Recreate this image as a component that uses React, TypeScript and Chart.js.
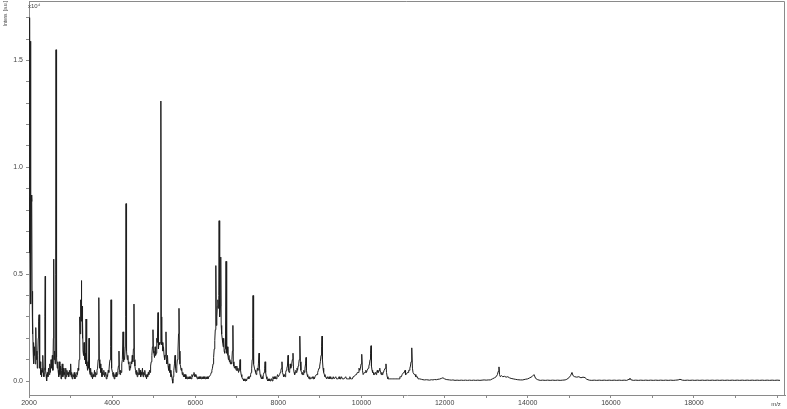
import React, { useEffect, useRef } from "react";
import { Chart, registerables } from "chart.js";

Chart.register(...registerables);

// m/z positions of the spectrum samples
const mzValues: number[] = [
  2000, 2010, 2020, 2026, 2032, 2040, 2048, 2058, 2066, 2074, 2082, 2090, 2098, 2106, 2114, 2124, 2134, 2146, 2158, 2168,
  2178, 2190, 2200, 2212, 2222, 2232, 2242, 2252, 2262, 2272, 2282, 2292, 2302, 2314, 2326, 2336, 2346, 2358, 2372, 2382,
  2390, 2398, 2410, 2424, 2440, 2456, 2470, 2484, 2500, 2514, 2530, 2548, 2562, 2574, 2586, 2595, 2604, 2616, 2630, 2642,
  2650, 2658, 2668, 2680, 2692, 2700, 2716, 2730, 2744, 2758, 2770, 2784, 2800, 2814, 2828, 2842, 2856, 2870, 2884, 2898,
  2912, 2926, 2940, 2956, 2972, 2988, 3002, 3014, 3026, 3040, 3056, 3072, 3088, 3104, 3120, 3136, 3152, 3166, 3180, 3194,
  3206, 3216, 3226, 3236, 3244, 3252, 3260, 3268, 3276, 3284, 3292, 3300, 3312, 3324, 3336, 3350, 3362, 3372, 3382, 3394,
  3408, 3420, 3432, 3444, 3454, 3468, 3482, 3496, 3512, 3528, 3544, 3560, 3576, 3590, 3604, 3620, 3636, 3650, 3664, 3676,
  3684, 3692, 3704, 3716, 3728, 3742, 3756, 3770, 3786, 3800, 3816, 3832, 3846, 3860, 3876, 3890, 3906, 3920, 3936, 3950,
  3964, 3973, 3982, 3994, 4008, 4022, 4036, 4050, 4066, 4080, 4096, 4110, 4124, 4138, 4152, 4165, 4176, 4190, 4204, 4218,
  4232, 4246, 4262, 4272, 4284, 4300, 4316, 4326, 4334, 4342, 4352, 4364, 4378, 4392, 4404, 4416, 4430, 4444, 4456, 4470,
  4484, 4498, 4512, 4526, 4536, 4548, 4562, 4576, 4590, 4604, 4618, 4632, 4646, 4660, 4674, 4688, 4702, 4716, 4730, 4744,
  4758, 4772, 4786, 4800, 4814, 4828, 4842, 4856, 4870, 4884, 4898, 4912, 4926, 4940, 4956, 4970, 4983, 4994, 5006, 5020,
  5034, 5046, 5060, 5074, 5088, 5104, 5114, 5128, 5144, 5160, 5170, 5176, 5184, 5194, 5208, 5222, 5236, 5250, 5264, 5280,
  5296, 5306, 5318, 5332, 5346, 5360, 5374, 5388, 5402, 5416, 5430, 5444, 5458, 5470, 5484, 5500, 5513, 5526, 5540, 5556,
  5570, 5584, 5598, 5609, 5620, 5632, 5646, 5660, 5674, 5688, 5702, 5716, 5730, 5746, 5760, 5776, 5792, 5808, 5824, 5840,
  5856, 5872, 5888, 5904, 5920, 5936, 5952, 5970, 5986, 6002, 6018, 6034, 6050, 6066, 6082, 6098, 6114, 6130, 6146, 6162,
  6178, 6194, 6210, 6226, 6242, 6258, 6274, 6290, 6306, 6322, 6338, 6354, 6370, 6386, 6400, 6414, 6428, 6442, 6456, 6470,
  6482, 6492, 6499, 6508, 6520, 6532, 6544, 6556, 6566, 6574, 6582, 6594, 6606, 6614, 6624, 6636, 6648, 6660, 6672, 6684,
  6696, 6708, 6718, 6728, 6740, 6750, 6762, 6774, 6786, 6798, 6810, 6822, 6834, 6846, 6858, 6870, 6882, 6894, 6906, 6916,
  6930, 6944, 6958, 6972, 6986, 7000, 7014, 7028, 7042, 7056, 7068, 7078, 7090, 7104, 7120, 7136, 7152, 7168, 7184, 7200,
  7216, 7232, 7248, 7262, 7276, 7290, 7304, 7318, 7332, 7346, 7358, 7370, 7382, 7390, 7398, 7410, 7424, 7438, 7452, 7466,
  7480, 7494, 7508, 7520, 7534, 7546, 7560, 7576, 7592, 7608, 7624, 7640, 7656, 7670, 7680, 7694, 7710, 7726, 7742, 7758,
  7774, 7790, 7806, 7822, 7838, 7854, 7870, 7886, 7902, 7918, 7934, 7950, 7966, 7982, 7998, 8014, 8030, 8046, 8060, 8074,
  8087, 8100, 8114, 8128, 8144, 8160, 8176, 8190, 8204, 8218, 8232, 8244, 8258, 8272, 8286, 8298, 8310, 8322, 8336, 8352,
  8364, 8378, 8392, 8406, 8420, 8434, 8448, 8462, 8476, 8490, 8502, 8512, 8520, 8530, 8542, 8556, 8570, 8584, 8598, 8612,
  8626, 8640, 8654, 8665, 8676, 8690, 8706, 8722, 8738, 8754, 8770, 8786, 8802, 8818, 8834, 8850, 8866, 8882, 8898, 8914,
  8930, 8946, 8962, 8978, 8994, 9010, 9026, 9040, 9050, 9060, 9074, 9090, 9106, 9122, 9140, 9160, 9180, 9200, 9220, 9240,
  9260, 9280, 9300, 9320, 9340, 9360, 9380, 9400, 9420, 9440, 9460, 9480, 9500, 9520, 9540, 9560, 9580, 9600, 9620, 9640,
  9660, 9680, 9700, 9720, 9740, 9760, 9780, 9800, 9820, 9840, 9860, 9880, 9900, 9920, 9940, 9960, 9975, 9990, 10000, 10012,
  10024, 10040, 10056, 10072, 10088, 10104, 10120, 10136, 10150, 10164, 10178, 10192, 10206, 10218, 10229, 10240, 10254, 10268, 10282, 10296,
  10310, 10324, 10338, 10352, 10366, 10380, 10394, 10408, 10422, 10436, 10445, 10460, 10474, 10488, 10502, 10516, 10530, 10544, 10558, 10572,
  10589, 10602, 10618, 10636, 10654, 10672, 10690, 10708, 10726, 10744, 10762, 10780, 10798, 10816, 10834, 10852, 10870, 10888, 10906, 10924,
  10942, 10960, 10978, 10996, 11014, 11030, 11047, 11060, 11074, 11090, 11106, 11120, 11136, 11150, 11164, 11178, 11192, 11204, 11215, 11226,
  11240, 11256, 11272, 11290, 11308, 11326, 11344, 11362, 11380, 11400, 11440, 11480, 11520, 11560, 11600, 11640, 11680, 11720, 11760, 11800,
  11840, 11880, 11920, 11960, 12000, 12040, 12080, 12120, 12160, 12200, 12250, 12300, 12350, 12400, 12450, 12500, 12550, 12600, 12650, 12700,
  12750, 12800, 12850, 12900, 12950, 13000, 13050, 13100, 13150, 13200, 13240, 13270, 13290, 13308, 13322, 13340, 13370, 13400, 13440, 13480,
  13520, 13560, 13600, 13650, 13700, 13760, 13820, 13880, 13940, 14000, 14050, 14100, 14150, 14190, 14240, 14300, 14360, 14420, 14480, 14540,
  14600, 14660, 14720, 14780, 14840, 14900, 14940, 14990, 15030, 15065, 15090, 15130, 15180, 15230, 15280, 15330, 15378, 15420, 15480, 15540,
  15600, 15660, 15720, 15780, 15840, 15900, 15960, 16020, 16080, 16140, 16200, 16260, 16320, 16380, 16440, 16460, 16480, 16540, 16600, 16660,
  16720, 16780, 16840, 16900, 16960, 17020, 17080, 17140, 17200, 17260, 17320, 17380, 17440, 17500, 17560, 17620, 17663, 17720, 17780, 17840,
  17900, 17960, 18020, 18080, 18140, 18200, 18260, 18320, 18380, 18440, 18500, 18560, 18620, 18680, 18740, 18800, 18860, 18920, 18980, 19040,
  19100, 19160, 19220, 19280, 19340, 19400, 19460, 19520, 19580, 19640, 19700, 19760, 19820, 19880, 19940, 20000, 20070,
];

// intensities in units of x10^4 a.u.
const intensityValues: number[] = [
  0.86, 0.60, 1.70, 0.70, 1.59, 0.40, 0.36, 0.87, 0.84, 0.42, 0.22, 0.30, 0.15, 0.08, 0.18, 0.12, 0.16, 0.08, 0.14, 0.25,
  0.10, 0.14, 0.06, 0.12, 0.20, 0.28, 0.31, 0.12, 0.06, 0.09, 0.03, 0.05, 0.02, 0.06, 0.04, 0.12, 0.04, 0.02, 0.06, 0.30,
  0.49, 0.05, 0.03, 0.00, 0.04, 0.02, 0.06, 0.03, 0.08, 0.04, 0.10, 0.06, 0.12, 0.05, 0.20, 0.57, 0.10, 0.14, 0.08, 0.50,
  1.55, 0.40, 0.11, 0.06, 0.09, 0.05, 0.02, 0.09, 0.03, 0.07, 0.01, 0.05, 0.08, 0.02, 0.06, 0.03, 0.04, 0.01, 0.06, 0.02,
  0.05, 0.03, 0.04, 0.02, 0.05, 0.03, 0.08, 0.02, 0.04, 0.01, 0.03, 0.02, 0.04, 0.01, 0.03, 0.02, 0.04, 0.03, 0.06, 0.05,
  0.10, 0.18, 0.30, 0.22, 0.38, 0.28, 0.47, 0.30, 0.35, 0.20, 0.28, 0.14, 0.12, 0.18, 0.10, 0.13, 0.08, 0.29, 0.07, 0.10,
  0.05, 0.09, 0.06, 0.20, 0.05, 0.03, 0.06, 0.02, 0.04, 0.01, 0.03, 0.02, 0.05, 0.02, 0.04, 0.03, 0.05, 0.06, 0.10, 0.15,
  0.39, 0.10, 0.06, 0.08, 0.04, 0.06, 0.02, 0.04, 0.03, 0.05, 0.02, 0.04, 0.03, 0.01, 0.03, 0.02, 0.05, 0.04, 0.08, 0.10,
  0.16, 0.38, 0.12, 0.06, 0.04, 0.02, 0.04, 0.01, 0.03, 0.02, 0.04, 0.02, 0.03, 0.05, 0.07, 0.14, 0.04, 0.03, 0.05, 0.04,
  0.08, 0.10, 0.23, 0.09, 0.12, 0.10, 0.16, 0.30, 0.83, 0.20, 0.14, 0.10, 0.12, 0.08, 0.09, 0.05, 0.07, 0.06, 0.09, 0.08,
  0.12, 0.09, 0.15, 0.36, 0.10, 0.07, 0.05, 0.03, 0.05, 0.02, 0.04, 0.03, 0.06, 0.03, 0.05, 0.02, 0.04, 0.03, 0.06, 0.02,
  0.04, 0.03, 0.05, 0.02, 0.03, 0.01, 0.03, 0.02, 0.04, 0.03, 0.05, 0.04, 0.07, 0.09, 0.12, 0.16, 0.24, 0.14, 0.13, 0.11,
  0.16, 0.12, 0.13, 0.20, 0.18, 0.32, 0.15, 0.18, 0.17, 0.18, 0.40, 1.31, 0.30, 0.17, 0.18, 0.14, 0.16, 0.12, 0.10, 0.12,
  0.23, 0.10, 0.08, 0.12, 0.07, 0.05, 0.08, 0.04, 0.05, 0.02, 0.03, 0.01, -0.01, 0.02, 0.05, 0.08, 0.12, 0.06, 0.04, 0.07,
  0.10, 0.14, 0.22, 0.34, 0.14, 0.08, 0.07, 0.05, 0.06, 0.03, 0.04, 0.02, 0.03, 0.02, 0.03, 0.01, 0.02, 0.01, 0.02, 0.01,
  0.02, 0.01, 0.02, 0.01, 0.03, 0.02, 0.03, 0.04, 0.02, 0.03, 0.02, 0.02, 0.01, 0.02, 0.01, 0.02, 0.01, 0.02, 0.01, 0.02,
  0.01, 0.02, 0.01, 0.02, 0.01, 0.02, 0.01, 0.02, 0.01, 0.02, 0.02, 0.02, 0.03, 0.04, 0.05, 0.06, 0.08, 0.11, 0.15, 0.19,
  0.24, 0.30, 0.54, 0.26, 0.30, 0.35, 0.38, 0.34, 0.40, 0.75, 0.32, 0.30, 0.35, 0.58, 0.26, 0.22, 0.20, 0.18, 0.16, 0.20,
  0.14, 0.13, 0.15, 0.22, 0.56, 0.18, 0.13, 0.16, 0.12, 0.10, 0.12, 0.09, 0.10, 0.08, 0.09, 0.08, 0.10, 0.14, 0.26, 0.09,
  0.07, 0.06, 0.07, 0.06, 0.05, 0.07, 0.05, 0.06, 0.04, 0.05, 0.07, 0.10, 0.05, 0.03, 0.02, 0.01, 0.01, 0.00, 0.01, 0.00,
  0.01, 0.00, 0.01, 0.01, 0.02, 0.01, 0.02, 0.02, 0.03, 0.04, 0.06, 0.10, 0.20, 0.40, 0.16, 0.08, 0.06, 0.05, 0.04, 0.03,
  0.04, 0.06, 0.05, 0.08, 0.13, 0.06, 0.03, 0.02, 0.01, 0.02, 0.01, 0.03, 0.04, 0.06, 0.09, 0.04, 0.02, 0.01, 0.00, 0.01,
  0.00, 0.01, 0.00, 0.01, 0.01, 0.00, 0.02, 0.01, 0.02, 0.01, 0.02, 0.01, 0.02, 0.03, 0.02, 0.02, 0.03, 0.04, 0.05, 0.06,
  0.09, 0.04, 0.03, 0.02, 0.03, 0.02, 0.04, 0.05, 0.06, 0.07, 0.12, 0.05, 0.04, 0.05, 0.08, 0.06, 0.07, 0.08, 0.10, 0.13,
  0.06, 0.04, 0.03, 0.04, 0.05, 0.04, 0.06, 0.05, 0.07, 0.08, 0.10, 0.15, 0.21, 0.09, 0.05, 0.04, 0.03, 0.04, 0.03, 0.05,
  0.04, 0.06, 0.08, 0.11, 0.05, 0.03, 0.02, 0.02, 0.01, 0.02, 0.01, 0.01, 0.01, 0.02, 0.01, 0.02, 0.01, 0.02, 0.02, 0.03,
  0.03, 0.04, 0.05, 0.06, 0.07, 0.09, 0.12, 0.16, 0.21, 0.10, 0.06, 0.04, 0.03, 0.02, 0.02, 0.01, 0.02, 0.01, 0.02, 0.01,
  0.02, 0.01, 0.01, 0.02, 0.01, 0.01, 0.02, 0.01, 0.01, 0.01, 0.02, 0.01, 0.01, 0.02, 0.01, 0.01, 0.01, 0.01, 0.02, 0.01,
  0.01, 0.01, 0.01, 0.02, 0.01, 0.01, 0.01, 0.02, 0.02, 0.02, 0.03, 0.03, 0.04, 0.04, 0.06, 0.05, 0.06, 0.08, 0.10, 0.125,
  0.05, 0.03, 0.03, 0.04, 0.04, 0.05, 0.04, 0.05, 0.05, 0.06, 0.07, 0.08, 0.10, 0.13, 0.165, 0.07, 0.05, 0.04, 0.04, 0.03,
  0.03, 0.03, 0.04, 0.03, 0.04, 0.05, 0.04, 0.04, 0.05, 0.06, 0.055, 0.04, 0.03, 0.04, 0.03, 0.04, 0.04, 0.05, 0.05, 0.06,
  0.08, 0.04, 0.02, 0.01, 0.01, 0.01, 0.01, 0.01, 0.01, 0.01, 0.01, 0.01, 0.01, 0.01, 0.01, 0.01, 0.01, 0.01, 0.01, 0.02,
  0.02, 0.02, 0.03, 0.03, 0.04, 0.04, 0.05, 0.03, 0.03, 0.03, 0.04, 0.04, 0.05, 0.05, 0.06, 0.07, 0.09, 0.12, 0.155, 0.06,
  0.04, 0.04, 0.03, 0.03, 0.02, 0.02, 0.02, 0.01, 0.01, 0.01, 0.008, 0.006, 0.005, 0.006, 0.005, 0.004, 0.006, 0.005, 0.007, 0.006,
  0.008, 0.009, 0.012, 0.015, 0.01, 0.007, 0.006, 0.005, 0.004, 0.005, 0.003, 0.004, 0.003, 0.004, 0.003, 0.004, 0.003, 0.004, 0.003, 0.004,
  0.003, 0.004, 0.003, 0.004, 0.005, 0.004, 0.005, 0.005, 0.01, 0.015, 0.02, 0.03, 0.045, 0.066, 0.03, 0.02, 0.025, 0.02, 0.022, 0.018,
  0.02, 0.015, 0.012, 0.01, 0.008, 0.006, 0.005, 0.005, 0.008, 0.01, 0.015, 0.02, 0.03, 0.012, 0.006, 0.003, 0.004, 0.003, 0.004, 0.003,
  0.004, 0.003, 0.004, 0.003, 0.004, 0.005, 0.008, 0.015, 0.025, 0.04, 0.025, 0.02, 0.018, 0.02, 0.015, 0.018, 0.016, 0.008, 0.004, 0.003,
  0.004, 0.003, 0.004, 0.003, 0.004, 0.003, 0.004, 0.003, 0.004, 0.003, 0.004, 0.003, 0.004, 0.003, 0.008, 0.013, 0.006, 0.003, 0.004, 0.003,
  0.004, 0.003, 0.004, 0.003, 0.004, 0.003, 0.004, 0.003, 0.004, 0.003, 0.004, 0.003, 0.004, 0.003, 0.004, 0.005, 0.008, 0.004, 0.003, 0.004,
  0.003, 0.004, 0.003, 0.004, 0.003, 0.004, 0.003, 0.004, 0.003, 0.004, 0.003, 0.004, 0.003, 0.004, 0.003, 0.004, 0.003, 0.004, 0.003, 0.004,
  0.003, 0.004, 0.003, 0.004, 0.003, 0.004, 0.003, 0.004, 0.003, 0.004, 0.003, 0.004, 0.003, 0.004, 0.003, 0.004, 0.003,
];

// axis ticks
const xTickValues: number[] = [2000, 3000, 4000, 5000, 6000, 7000, 8000, 9000, 10000, 11000, 12000, 13000, 14000, 15000, 16000, 17000, 18000, 19000, 20000];
const xLabelValues: number[] = [2000, 4000, 6000, 8000, 10000, 12000, 14000, 16000, 18000];
const yTickValues: number[] = [0, 0.1, 0.2, 0.3, 0.4, 0.5, 0.6, 0.7, 0.8, 0.9, 1.0, 1.1, 1.2, 1.3, 1.4, 1.5, 1.6, 1.7];
const yLabelValues: number[] = [0, 0.5, 1.0, 1.5];

const yAxisTitle = "Intens. [a.u.]";
const yAxisExponent = "x10⁴";
const xAxisTitle = "m/z";

const AXIS_COLOR = "#8a8a8a";
const TEXT_COLOR = "#444444";
const FONT_FAMILY = "'Liberation Sans', Arial, sans-serif";

export default function App() {
  const canvasRef = useRef<HTMLCanvasElement | null>(null);

  useEffect(() => {
    document.body.style.margin = "0";
    const canvas = canvasRef.current;
    if (!canvas) return;

    const points = mzValues.map((mz, i) => ({ x: mz, y: intensityValues[i] }));

    const framePlugin = {
      id: "frameAndTitles",
      afterDraw(chart: any) {
        const { ctx, chartArea } = chart;
        ctx.save();
        ctx.strokeStyle = AXIS_COLOR;
        ctx.lineWidth = 1;
        ctx.beginPath();
        ctx.moveTo(chartArea.left, chartArea.top + 0.5);
        ctx.lineTo(chartArea.right - 0.5, chartArea.top + 0.5);
        ctx.lineTo(chartArea.right - 0.5, chartArea.bottom);
        ctx.stroke();

        ctx.fillStyle = TEXT_COLOR;
        // y-axis title, rotated and fitted into the top-left corner
        ctx.save();
        ctx.font = `6px ${FONT_FAMILY}`;
        const w = ctx.measureText(yAxisTitle).width;
        ctx.translate(7, 26);
        ctx.rotate(-Math.PI / 2);
        ctx.scale(25 / w, 1);
        ctx.textAlign = "left";
        ctx.textBaseline = "alphabetic";
        ctx.fillText(yAxisTitle, 0, 0);
        ctx.restore();
        // exponent
        ctx.textAlign = "left";
        ctx.textBaseline = "alphabetic";
        ctx.font = `6px ${FONT_FAMILY}`;
        ctx.fillText(yAxisExponent, chartArea.left - 1, 8);
        // x-axis title
        ctx.textAlign = "center";
        ctx.textBaseline = "middle";
        ctx.fillText(xAxisTitle, 776, 404);
        ctx.restore();
      },
    };

    const chart = new Chart(canvas, {
      type: "line",
      data: {
        datasets: [
          {
            data: points,
            borderColor: "#1e1e1e",
            borderWidth: 1,
            pointRadius: 0,
            tension: 0,
            fill: false,
          },
        ],
      },
      options: {
        animation: false,
        responsive: false,
        devicePixelRatio: 1,
        parsing: false,
        normalized: true,
        layout: { padding: { left: 0, top: 1, right: 2, bottom: 0 } },
        plugins: {
          legend: { display: false },
          tooltip: { enabled: false },
          title: { display: false },
        },
        scales: {
          x: {
            type: "linear",
            min: 2000,
            max: 20190,
            afterBuildTicks: (scale: any) => {
              scale.ticks = xTickValues.map((v) => ({ value: v }));
            },
            afterFit: (scale: any) => {
              scale.height = 14;
              scale.paddingLeft = 0;
              scale.paddingRight = 0;
            },
            border: { display: true, color: AXIS_COLOR, width: 1 },
            grid: { drawOnChartArea: false, drawTicks: true, tickLength: 3, color: AXIS_COLOR },
            ticks: {
              autoSkip: false,
              maxRotation: 0,
              padding: 1,
              color: TEXT_COLOR,
              font: { size: 7, family: FONT_FAMILY },
              callback: (value: any) => (xLabelValues.includes(Number(value)) ? String(value) : ""),
            },
          },
          y: {
            type: "linear",
            min: -0.0655,
            max: 1.778,
            afterBuildTicks: (scale: any) => {
              scale.ticks = yTickValues.map((v) => ({ value: v }));
            },
            afterFit: (scale: any) => {
              scale.width = 29;
              scale.paddingTop = 0;
              scale.paddingBottom = 0;
            },
            border: { display: true, color: AXIS_COLOR, width: 1 },
            grid: { drawOnChartArea: false, drawTicks: true, tickLength: 3, color: AXIS_COLOR },
            ticks: {
              autoSkip: false,
              padding: 3,
              color: TEXT_COLOR,
              font: { size: 7, family: FONT_FAMILY },
              callback: (value: any) =>
                yLabelValues.some((v) => Math.abs(v - Number(value)) < 1e-6) ? Number(value).toFixed(1) : "",
            },
          },
        },
      },
      plugins: [framePlugin],
    } as any);

    return () => {
      chart.destroy();
    };
  }, []);

  return (
    <div style={{ position: "relative", width: 787, height: 409, background: "#ffffff" }}>
      <canvas ref={canvasRef} width={787} height={409} style={{ display: "block", width: 787, height: 409 }} />
    </div>
  );
}
